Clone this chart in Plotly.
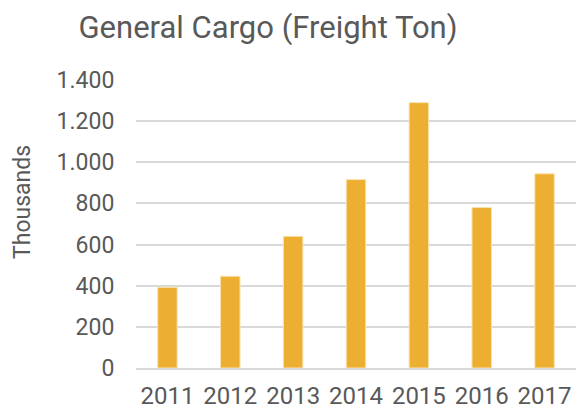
import plotly.graph_objects as go

years = ["2011", "2012", "2013", "2014", "2015", "2016", "2017"]
values = [392, 446, 640, 916, 1290, 780, 944]
y_tick_vals = [0, 200, 400, 600, 800, 1000, 1200, 1400]
y_tick_text = ["0", "200", "400", "600", "800", "1.000", "1.200", "1.400"]

font_family = "Roboto, Arial, sans-serif"
text_color = "#595959"

fig = go.Figure(
    go.Bar(
        x=years,
        y=values,
        marker=dict(color="#EDAF32", line=dict(color="#F8E3B0", width=1)),
        width=0.31,
    )
)

fig.update_layout(
    width=577,
    height=410,
    margin=dict(l=136, r=1, t=80, b=42, autoexpand=False),
    paper_bgcolor="white",
    plot_bgcolor="white",
    showlegend=False,
    title=dict(
        text="General Cargo (Freight Ton)",
        x=268 / 577,
        xanchor="center",
        y=1 - 27 / 410,
        yanchor="middle",
        font=dict(family=font_family, size=31, color=text_color),
    ),
    font=dict(family=font_family, color=text_color),
    annotations=[
        dict(
            text="Thousands",
            textangle=-90,
            x=(22 - 136) / 440,
            y=(368 - 202) / 288,
            xref="paper",
            yref="paper",
            xanchor="center",
            yanchor="middle",
            showarrow=False,
            font=dict(size=23, color=text_color, family=font_family),
        )
    ],
)

fig.update_xaxes(
    type="category",
    showgrid=False,
    showline=True,
    linecolor="#d9d9d9",
    linewidth=1.5,
    ticks="outside",
    ticklen=5,
    tickcolor="rgba(0,0,0,0)",
    automargin=False,
    tickfont=dict(size=24, color=text_color, family=font_family),
)

fig.update_yaxes(
    range=[0, 1400],
    tickvals=y_tick_vals,
    ticktext=y_tick_text,
    showgrid=True,
    gridcolor="#d9d9d9",
    gridwidth=1.5,
    zeroline=False,
    ticks="outside",
    ticklen=16,
    tickcolor="rgba(0,0,0,0)",
    automargin=False,
    tickfont=dict(size=23, color=text_color, family=font_family),
)

fig.write_html(
    "out.html",
    config={"displayModeBar": False},
    post_script="document.body.style.margin='0';document.body.style.overflow='hidden';",
)
